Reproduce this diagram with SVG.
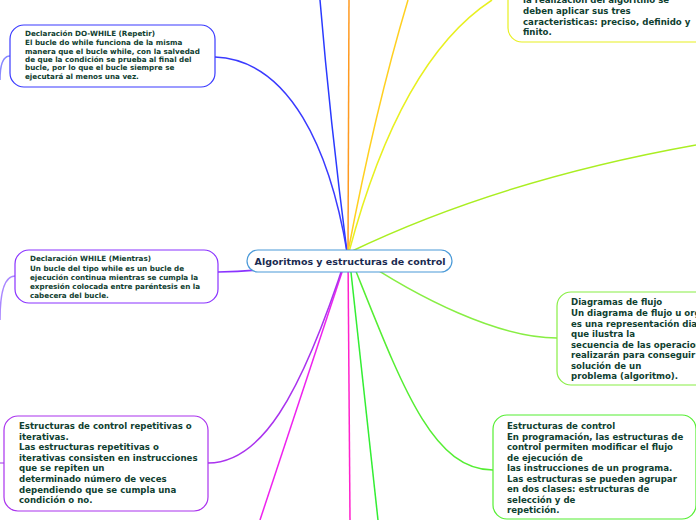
<svg xmlns="http://www.w3.org/2000/svg" width="696" height="520" viewBox="0 0 696 520">
<style>
.t{font-family:"DejaVu Sans","Liberation Sans",sans-serif;font-weight:bold;fill:#0f4030}
.s{font-size:7.2px}.m{font-size:8.6px}
.c{fill:none;stroke-width:1.5}
rect{fill:#fff;stroke-width:1.2}
</style>
<rect x="0" y="0" width="696" height="520" fill="#fff" stroke="none"/>
<g id="connectors">
<path class="c" d="M347,252 Q330,120 320,0" stroke="#2a3aff"/>
<path class="c" d="M347,252 C330,150 290,60 215,57" stroke="#3a3aff"/>
<path class="c" d="M348,252 L349,0" stroke="#ff9a20"/>
<path class="c" d="M348,252 Q375,110 408,0" stroke="#ffd020"/>
<path class="c" d="M349,252 Q400,60 492,0" stroke="#e8f020"/>
<path class="c" d="M350,252 Q500,180 696,145" stroke="#aaee22"/>
<path class="c" d="M350,252 C420,300 500,338 557,338" stroke="#88ee44"/>
<path class="c" d="M349,254 C400,380 430,470 493,470" stroke="#55ee33"/>
<path class="c" d="M349,254 L378,520" stroke="#33ee33"/>
<path class="c" d="M348,254 L350,520" stroke="#ff22cc"/>
<path class="c" d="M348,254 Q300,400 260,520" stroke="#ee22ee"/>
<path class="c" d="M347,253 Q300,270 218,272" stroke="#8a33ff"/>
<path class="c" d="M347,254 C300,400 260,463 208,463" stroke="#aa33ee"/>
<path class="c" d="M15,276 Q0,276 0,320" stroke="#aa88ff" stroke-width="1"/>
<path class="c" d="M10,56 Q0,56 0,80" stroke="#8888ff" stroke-width="1"/>
<path class="c" d="M4,463 L0,463" stroke="#bb77ee" stroke-width="1"/>
</g>
<g id="center">
<rect x="247" y="250" width="205" height="22" rx="11" stroke="#4a9ad8"/>
<text class="t" x="350" y="265" text-anchor="middle" style="font-size:9.5px;fill:#1a2a50">Algoritmos y estructuras de control</text>
</g>
<g id="caracteristicas">
<rect x="508" y="-20" width="200" height="62" rx="14" stroke="#e8f020"/>
<text class="t m"><tspan x="523" y="3">la realización del algoritmo se</tspan><tspan x="523" y="14">deben aplicar sus tres</tspan><tspan x="523" y="25">caracteristicas: preciso, definido y</tspan><tspan x="523" y="35">finito.</tspan></text>
</g>
<g id="dowhile">
<rect x="10" y="25" width="205" height="62" rx="14" stroke="#3a3aff"/>
<text class="t s"><tspan x="25" y="36">Declaración DO-WHILE (Repetir)</tspan><tspan x="25" y="45">El bucle do while funciona de la misma</tspan><tspan x="25" y="54">manera que el bucle while, con la salvedad</tspan><tspan x="25" y="62">de que la condición se prueba al final del</tspan><tspan x="25" y="70">bucle, por lo que el bucle siempre se</tspan><tspan x="25" y="79">ejecutará al menos una vez.</tspan></text>
</g>
<g id="while">
<rect x="15" y="250" width="203" height="53" rx="14" stroke="#8a33ff"/>
<text class="t s"><tspan x="30" y="261">Declaración WHILE (Mientras)</tspan><tspan x="30" y="271">Un bucle del tipo while es un bucle de</tspan><tspan x="30" y="280">ejecución continua mientras se cumpla la</tspan><tspan x="30" y="289">expresión colocada entre paréntesis en la</tspan><tspan x="30" y="298">cabecera del bucle.</tspan></text>
</g>
<g id="repetitivas">
<rect x="4" y="416" width="204" height="95" rx="14" stroke="#aa33ee"/>
<text class="t m"><tspan x="19" y="429">Estructuras de control repetitivas o</tspan><tspan x="19" y="440">iterativas.</tspan><tspan x="19" y="450">Las estructuras repetitivas o</tspan><tspan x="19" y="461">iterativas consisten en instrucciones</tspan><tspan x="19" y="471">que se repiten un</tspan><tspan x="19" y="482">determinado número de veces</tspan><tspan x="19" y="493">dependiendo que se cumpla una</tspan><tspan x="19" y="503">condición o no.</tspan></text>
</g>
<g id="diagramas">
<rect x="557" y="292" width="160" height="93" rx="14" stroke="#88ee44"/>
<text class="t m"><tspan x="571" y="305">Diagramas de flujo</tspan><tspan x="571" y="316">Un diagrama de flujo u organigrama</tspan><tspan x="571" y="327">es una representación diagramática</tspan><tspan x="571" y="337">que ilustra la</tspan><tspan x="571" y="348">secuencia de las operaciones que se</tspan><tspan x="571" y="358">realizarán para conseguir la</tspan><tspan x="571" y="369">solución de un</tspan><tspan x="571" y="379">problema (algoritmo).</tspan></text>
</g>
<g id="estructuras">
<rect x="493" y="415" width="203" height="104" rx="14" stroke="#55ee33"/>
<text class="t m"><tspan x="507" y="429">Estructuras de control</tspan><tspan x="507" y="440">En programación, las estructuras de</tspan><tspan x="507" y="450">control permiten modificar el flujo</tspan><tspan x="507" y="461">de ejecución de</tspan><tspan x="507" y="471">las instrucciones de un programa.</tspan><tspan x="507" y="482">Las estructuras se pueden agrupar</tspan><tspan x="507" y="492">en dos clases: estructuras de</tspan><tspan x="507" y="503">selección y de</tspan><tspan x="507" y="513">repetición.</tspan></text>
</g>
</svg>
